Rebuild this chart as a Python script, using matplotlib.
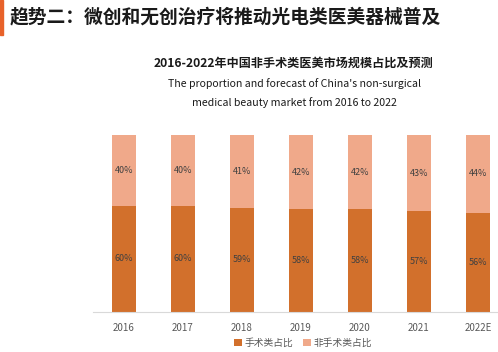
import numpy as np
import matplotlib
matplotlib.use("Agg")
import matplotlib.pyplot as plt
from matplotlib.patches import Rectangle

plt.rcParams['font.family'] = ['Noto Sans CJK SC', 'DejaVu Sans']

years = ["2016", "2017", "2018", "2019", "2020", "2021", "2022E"]
surgical = [60, 60, 59, 58, 58, 57, 56]
non_surgical = [40, 40, 41, 42, 42, 43, 44]
series_names = ["手术类占比", "非手术类占比"]

DARK = "#D2702C"
LIGHT = "#F0A98A"
TXT = "#404040"

fig = plt.figure(figsize=(4.98, 3.52), dpi=100)

# page heading with the orange marker on the left
fig.patches.append(Rectangle((0, 1 - 35 / 352), 3 / 498, 35 / 352,
                             transform=fig.transFigure, color="#E8622A"))
fig.text(10 / 498, 1 - 17 / 352, "趋势二：微创和无创治疗将推动光电类医美器械普及",
         fontsize=13.5, fontweight="bold", color="#1a1a1a", va="center")

fig.text(293 / 498, 1 - 63 / 352, "2016-2022年中国非手术类医美市场规模占比及预测",
         fontsize=8.7, fontweight="bold", color="#1a1a1a", ha="center", va="center")
fig.text(294 / 498, 1 - 84 / 352, "The proportion and forecast of China's non-surgical",
         fontsize=7.6, color="#1a1a1a", ha="center", va="center")
fig.text(294 / 498, 1 - 103 / 352, "medical beauty market from 2016 to 2022",
         fontsize=7.6, color="#1a1a1a", ha="center", va="center")

# axes run a little past the right edge, as in the cropped original
ax = fig.add_axes([93 / 498, 40 / 352, 7.05 * 59 / 498, 177 / 352])
x = np.arange(len(years))
ax.bar(x, surgical, width=0.4, color=DARK, label=series_names[0])
ax.bar(x, non_surgical, width=0.4, bottom=surgical, color=LIGHT, label=series_names[1])

for i in x:
    ax.text(i, surgical[i] / 2, f"{surgical[i]}%", ha="center", va="center",
            fontsize=6.5, color=TXT)
    ax.text(i, surgical[i] + non_surgical[i] / 2, f"{non_surgical[i]}%",
            ha="center", va="center", fontsize=6.5, color=TXT)

ax.set_xlim(-0.525, 6.525)
ax.set_ylim(0, 100)
ax.set_xticks(x)
ax.set_xticklabels(years, fontsize=7, color="#595959")
ax.tick_params(axis="x", length=0, pad=8)
ax.set_yticks([])
for s in ["top", "right", "left"]:
    ax.spines[s].set_visible(False)
ax.spines["bottom"].set_color("#D9D9D9")

fig.legend(loc="center", bbox_to_anchor=(303 / 498, 1 - 343 / 352), ncol=2,
           frameon=False, fontsize=7, handlelength=0.8, handleheight=0.8,
           handletextpad=0.3, columnspacing=1.0, labelcolor="#595959")

fig.savefig("out.png", dpi=100)
